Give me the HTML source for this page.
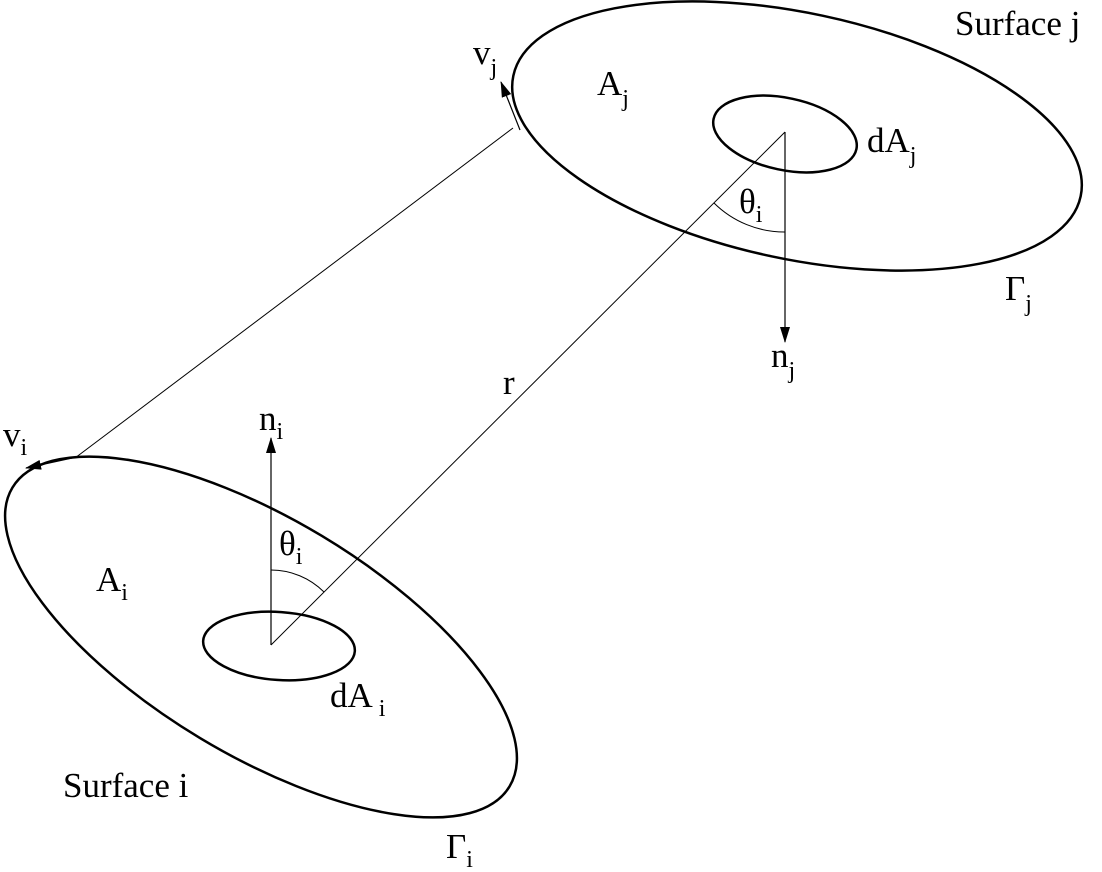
<!DOCTYPE html>
<html><head><style>
html,body{margin:0;padding:0;background:#fff;}
svg{display:block;}
text{font-family:"Liberation Serif",serif;fill:#000;}
</style></head><body>
<svg width="1102" height="872" viewBox="0 0 1102 872" xmlns="http://www.w3.org/2000/svg">
<defs>
<marker id="ah" markerWidth="16" markerHeight="10" refX="15" refY="5" orient="auto" markerUnits="userSpaceOnUse" viewBox="0 0 16 10">
<path d="M0,0 L16,5 L0,10 z" fill="#000"/>
</marker>
</defs>
<g fill="none" stroke="#000">
<ellipse cx="797" cy="136" rx="290" ry="123" transform="rotate(12 797 136)" stroke-width="2.5"/>
<ellipse cx="261" cy="637" rx="290" ry="118" transform="rotate(31 261 637)" stroke-width="2.5"/>
<ellipse cx="785" cy="134" rx="73" ry="36" transform="rotate(12 785 134)" stroke-width="2.5"/>
<ellipse cx="279" cy="646" rx="76" ry="34" transform="rotate(4 279 646)" stroke-width="2.5"/>
<line x1="271" y1="645" x2="785" y2="132" stroke-width="1"/>
<line x1="75" y1="458" x2="513" y2="128" stroke-width="1"/>
<line x1="785" y1="132" x2="785" y2="342" stroke-width="1.2" marker-end="url(#ah)"/>
<line x1="271" y1="645" x2="271" y2="438" stroke-width="1.2" marker-end="url(#ah)"/>
<line x1="520" y1="130" x2="501" y2="82" stroke-width="1.2" marker-end="url(#ah)"/>
<line x1="72" y1="458" x2="26" y2="468" stroke-width="1.2" marker-end="url(#ah)"/>
<path d="M785,232 A100,100 0 0 1 714,203" stroke-width="1"/>
<path d="M271,570 A75,75 0 0 1 324,592" stroke-width="1"/>
</g>
<g font-size="35">
<text x="955" y="35">Surface j</text>
<text x="63" y="797">Surface i</text>
<text x="597" y="95">A<tspan font-size="24" dy="11">j</tspan></text>
<text x="867" y="152">dA<tspan font-size="24" dy="11">j</tspan></text>
<text x="739" y="213">θ<tspan font-size="24" dy="9">i</tspan></text>
<text x="1005" y="300">Γ<tspan font-size="24" dy="11">j</tspan></text>
<text x="771" y="367">n<tspan font-size="24" dy="11">j</tspan></text>
<text x="503" y="394">r</text>
<text x="259" y="430">n<tspan font-size="24" dy="9">i</tspan></text>
<text x="3" y="446">v<tspan font-size="24" dy="9">i</tspan></text>
<text x="473" y="64">v<tspan font-size="24" dy="11">j</tspan></text>
<text x="279" y="555">θ<tspan font-size="24" dy="9">i</tspan></text>
<text x="96" y="591">A<tspan font-size="24" dy="9">i</tspan></text>
<text x="330" y="707">dA<tspan font-size="24" dy="9"> i</tspan></text>
<text x="446" y="858">Γ<tspan font-size="24" dy="9">i</tspan></text>
</g>
</svg>
</body></html>
